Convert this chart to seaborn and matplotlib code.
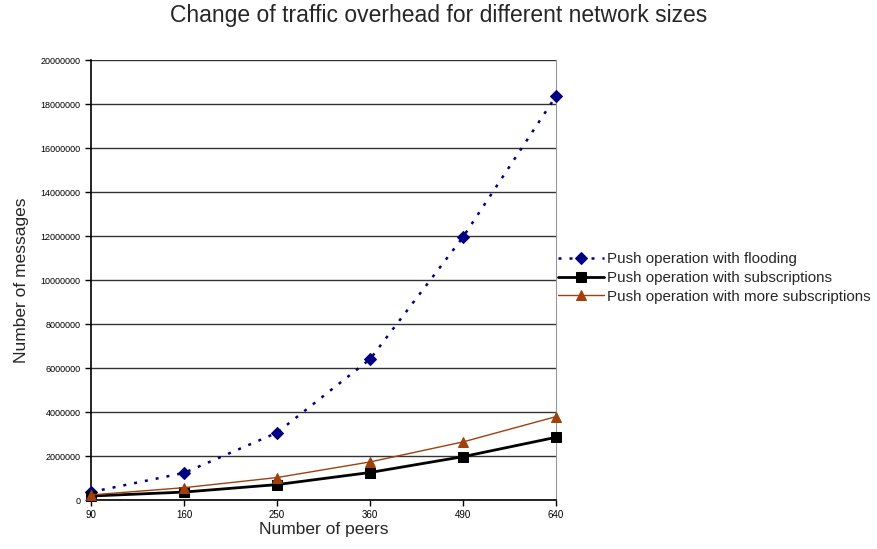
import numpy as np
import pandas as pd
import matplotlib.pyplot as plt
import seaborn as sns

peers = ["90", "160", "250", "360", "490", "640"]
flooding = [360000, 1230000, 3060000, 6400000, 11950000, 18360000]
subscriptions = [180000, 360000, 700000, 1250000, 1970000, 2850000]
more_subs = [230000, 560000, 1020000, 1730000, 2640000, 3790000]

SERIES = [
    ("Push operation with flooding", flooding,
     dict(color="#000080", marker="D", ms=6.5, lw=1.8, ls=(0, (1.2, 3.2)))),
    ("Push operation with subscriptions", subscriptions,
     dict(color="black", marker="s", ms=7, lw=2.0, ls="-")),
    ("Push operation with more subscriptions", more_subs,
     dict(color="#A0400E", marker="^", ms=7, lw=1.0, ls="-")),
]

sns.set_style("white")
plt.rcParams["font.family"] = ["Liberation Sans", "DejaVu Sans"]

fig = plt.figure(figsize=(8.77, 5.49), dpi=100, facecolor="white")
ax = fig.add_axes([91 / 877, 49 / 549, 465 / 877, 440 / 549])

for name, vals, st in SERIES:
    df = pd.DataFrame({"peers": peers, "messages": vals})
    sns.lineplot(data=df, x="peers", y="messages", ax=ax, sort=False,
                 color=st["color"], marker=st["marker"], markersize=st["ms"],
                 markeredgecolor=st["color"], linewidth=st["lw"],
                 linestyle=st["ls"], label=name, clip_on=False, zorder=3)

ax.set_xlim(0, len(peers) - 1)
ax.set_ylim(0, 20000000)
ax.set_yticks(np.arange(0, 20000001, 2000000))
ax.set_yticklabels([str(v) for v in range(0, 20000001, 2000000)])
ax.yaxis.grid(True, color="#333333", lw=1.0)
ax.xaxis.grid(False)
ax.set_axisbelow(True)

ax.tick_params(axis="y", labelsize=6.5)
ax.tick_params(axis="x", labelsize=7)
ax.tick_params(axis="both", which="major", length=4, width=1,
               direction="out", colors="black", left=True, bottom=True)
for side in ["left", "bottom"]:
    ax.spines[side].set_color("black")
    ax.spines[side].set_linewidth(1.2)
ax.spines["right"].set_color("#999999")
ax.spines["top"].set_visible(False)

ax.set_xlabel("Number of peers", fontsize=12.5, labelpad=1)
ax.set_ylabel("Number of messages", fontsize=12.5, labelpad=8)
fig.text(0.5, 0.971, "Change of traffic overhead for different network sizes",
         ha="center", va="center", fontsize=16.5)

ax.legend(loc="center left", bbox_to_anchor=(1.0, 0.505), frameon=False,
          fontsize=10.9, handlelength=3.1, handletextpad=0.15,
          labelspacing=0.33, borderaxespad=0.0, borderpad=0.1)

fig.savefig("out.png", dpi=100, facecolor="white")
